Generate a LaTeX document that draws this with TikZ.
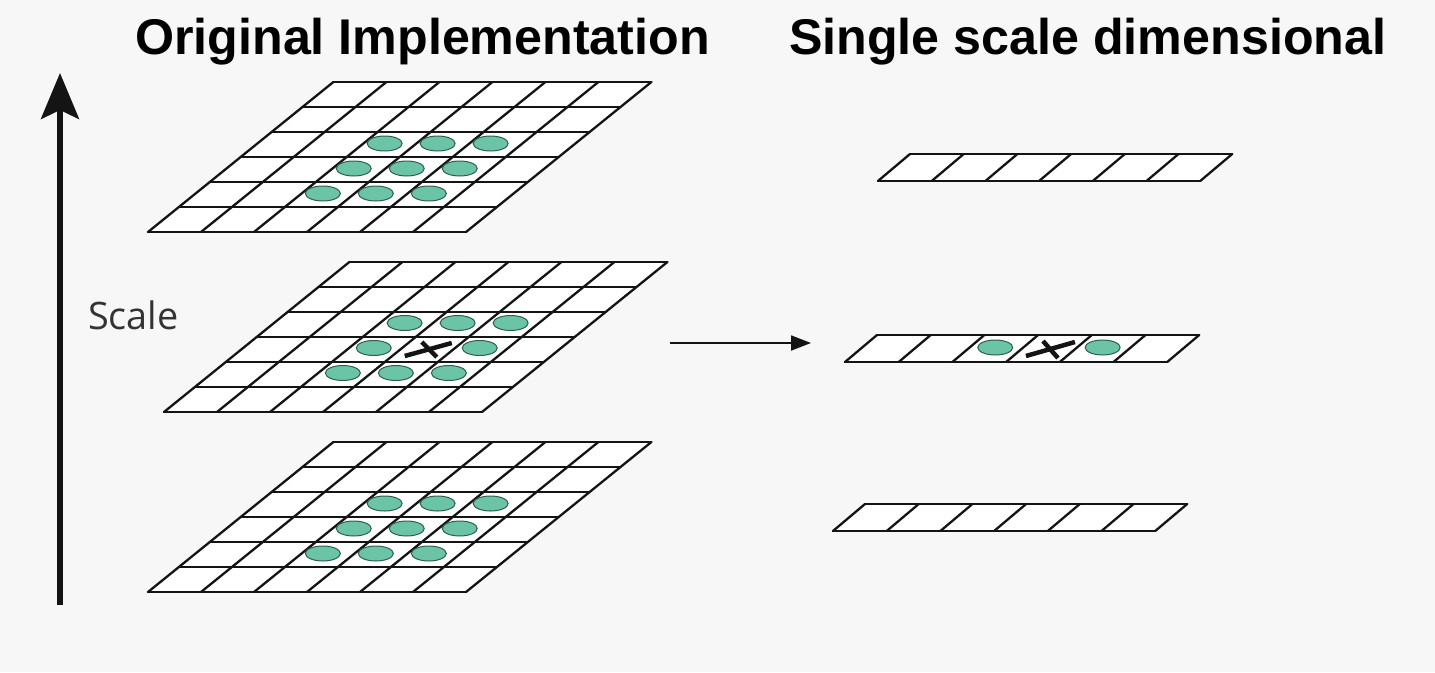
\documentclass[tikz,border=0pt]{standalone}
\usepackage{fontspec}
\usetikzlibrary{arrows.meta,shapes.geometric,calc}
\newfontfamily\titlefont{Liberation Sans}
\newfontfamily\scalefont{Open Sans}
\definecolor{bg}{HTML}{F7F7F7}
\definecolor{dot}{HTML}{6CC4A6}
\definecolor{dotline}{HTML}{2E5E50}
\definecolor{ink}{HTML}{141414}
\definecolor{scalegray}{HTML}{333333}
\tikzset{
  cellline/.style={line width=2.3pt, draw=ink, line cap=round, line join=round},
  dotnode/.style={ellipse, draw=dotline, line width=1pt, fill=dot, minimum width=35pt, minimum height=15pt, inner sep=0pt},
  xmark/.style={line width=4.5pt, draw=ink},
  titletext/.style={font=\titlefont\bfseries\fontsize{50.2}{56}\selectfont, anchor=base west, inner sep=0pt, text=black},
}
\newcommand\mygrid[3]{%
  \begin{scope}[shift={(#2,#3)}, x={(53pt,0pt)}, y={(30.9pt,25pt)}]
    \fill[white] (0,0) -- (6,0) -- (6,6) -- (0,6) -- cycle;
    \foreach \ii in {0,...,6} {
      \draw[cellline] (0,\ii) -- (6,\ii);
      \draw[cellline] (\ii,0) -- (\ii,6);
    }
    \foreach \cc in {0,...,5} {\foreach \rr in {0,...,5} {\coordinate (#1-\cc-\rr) at (\cc+0.5,\rr+0.5);}}
  \end{scope}}
\newcommand\mystrip[3]{%
  \begin{scope}[shift={(#2,#3)}, x={(53.7pt,0pt)}, y={(32pt,27pt)}]
    \fill[white] (0,0) -- (6,0) -- (6,1) -- (0,1) -- cycle;
    \draw[cellline] (0,0) -- (6,0) (0,1) -- (6,1);
    \foreach \ii in {0,...,6} {\draw[cellline] (\ii,0) -- (\ii,1);}
    \foreach \cc in {0,...,5} {\coordinate (#1-\cc) at (\cc+0.5,0.5);}
  \end{scope}}
\begin{document}
\begin{tikzpicture}[x=1pt,y=-1pt]
  \fill[bg] (0,0) rectangle (1435,672);
  \useasboundingbox (0,0) rectangle (1435,672);

  % titles
  \node[titletext] (t1) at (135,54) {Original Implementation};
  \node[titletext] (t2) at (789,54) {Single scale dimensional};

  % scale axis
  \coordinate (vbot) at (60,605);
  \coordinate (vtop) at (60,73);
  \draw[line width=5.3pt, draw=ink, -{Stealth[length=46pt,width=38pt,inset=9pt]}] (vbot) -- (vtop);
  \node[font=\scalefont\fontsize{37.8}{40}\selectfont, text=scalegray, anchor=base west, inner sep=0pt] (scale) at (88,329) {Scale};

  % grids
  \mygrid{ga}{148}{232}
  \mygrid{gb}{164}{412}
  \mygrid{gc}{148}{592}

  \foreach \cc in {2,3,4} {\foreach \rr in {1,2,3} {
    \node[dotnode] (ga-e-\cc-\rr) at ($(ga-\cc-\rr)+(-4,-1)$) {};
    \node[dotnode] (gc-e-\cc-\rr) at ($(gc-\cc-\rr)+(-4,-1)$) {};
  }}
  \foreach \cc/\rr in {2/1,3/1,4/1,2/2,4/2,2/3,3/3,4/3} {
    \node[dotnode] (gb-e-\cc-\rr) at ($(gb-\cc-\rr)+(0,-1.5)$) {};
  }
  \draw[xmark] ($(gb-3-2)+(-22,6.5)$) -- ($(gb-3-2)+(25,-6.5)$);
  \draw[xmark] ($(gb-3-2)+(-5,-7.5)$) -- ($(gb-3-2)+(10,7.5)$);

  % strips
  \mystrip{sa}{878}{181}
  \mystrip{sb}{845}{362}
  \mystrip{sc}{833}{531}
  \node[dotnode] (sb-e-2) at ($(sb-2)+(0,-1)$) {};
  \node[dotnode] (sb-e-4) at ($(sb-4)+(0,-1)$) {};
  \draw[xmark] ($(sb-3)+(-23,7.5)$) -- ($(sb-3)+(26,-6.5)$);
  \draw[xmark] ($(sb-3)+(-6,-7.5)$) -- ($(sb-3)+(9,9.5)$);

  % horizontal arrow
  \coordinate (ha) at (670,343);
  \coordinate (hb) at (811,343);
  \draw[line width=1.8pt, draw=ink, -{Triangle[length=20pt,width=15pt]}] (ha) -- (hb);
\end{tikzpicture}
\end{document}
